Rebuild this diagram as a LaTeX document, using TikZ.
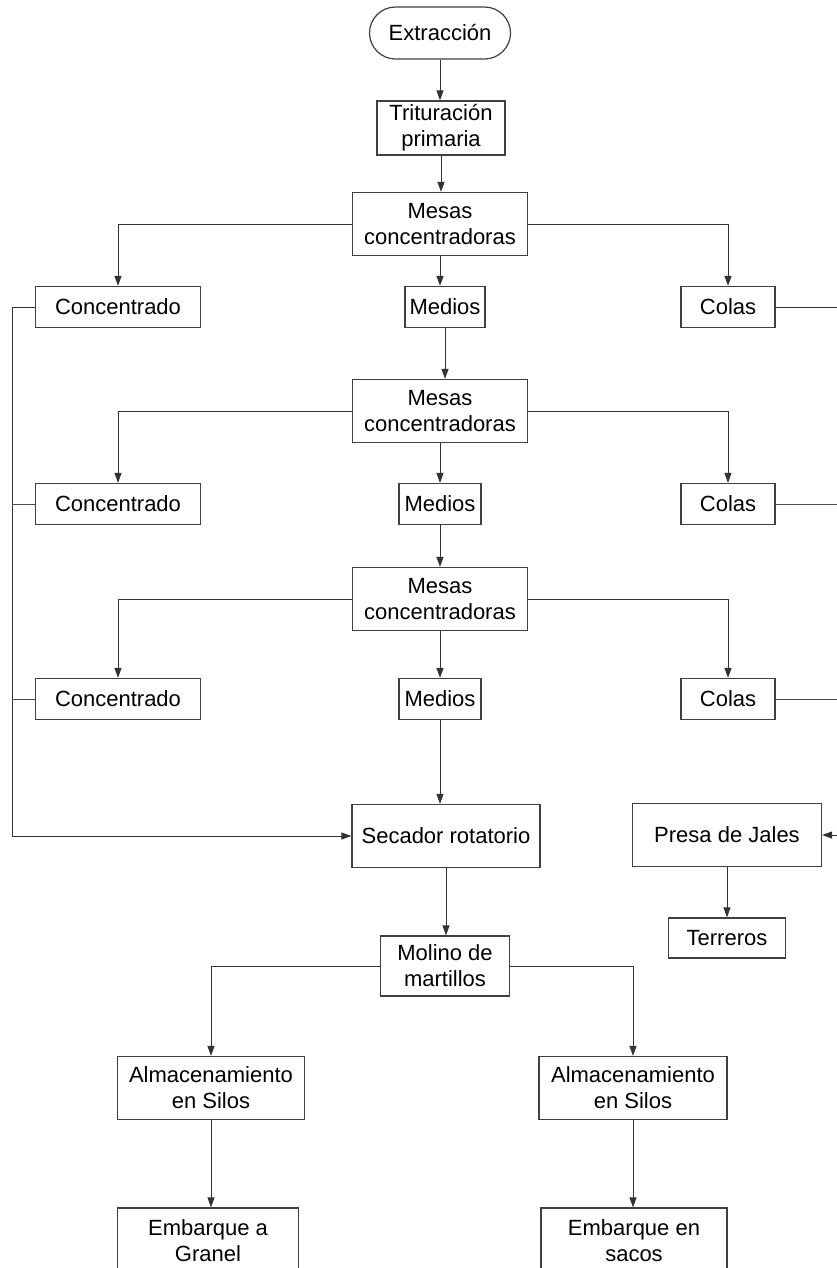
\documentclass[tikz,border=0pt]{standalone}
\usepackage{fontspec}
\setmainfont{Liberation Sans}
\usetikzlibrary{arrows.meta}

\tikzset{
  box/.style={draw=black!75, line width=1.2pt, fill=white, align=center, inner sep=2pt,
    font=\fontsize{22}{26}\selectfont},
  small/.style={box, minimum height=41pt},
  big/.style={box, minimum height=63pt},
  link/.style={draw=black!80, line width=1pt, -{Triangle[length=10pt,width=7pt]}},
  stub/.style={draw=black!70, line width=1pt},
}

\begin{document}
\begin{tikzpicture}[x=1pt, y=-1pt]
  \useasboundingbox (0,0) rectangle (836,1268);

  % Start and crushing
  \node[box, rounded corners=26pt, minimum width=141pt, minimum height=52pt] (extr) at (440,33) {Extracción};
  \node[box, minimum width=128pt, minimum height=54pt] (trit) at (441,128) {Trituración\\primaria};

  % Three stages of shaking tables
  \node[big, minimum width=175pt] (mesa1) at (440,224) {Mesas\\concentradoras};
  \node[small, minimum width=165pt] (conc1) at (118,307) {Concentrado};
  \node[small, minimum width=80pt] (med1) at (445,307) {Medios};
  \node[small, minimum width=94pt] (colas1) at (728,307) {Colas};

  \node[big, minimum width=175pt] (mesa2) at (440,411) {Mesas\\concentradoras};
  \node[small, minimum width=165pt] (conc2) at (118,504) {Concentrado};
  \node[small, minimum width=82pt] (med2) at (440,504) {Medios};
  \node[small, minimum width=94pt] (colas2) at (728,504) {Colas};

  \node[big, minimum width=175pt] (mesa3) at (440,599) {Mesas\\concentradoras};
  \node[small, minimum width=165pt] (conc3) at (118,699) {Concentrado};
  \node[small, minimum width=82pt] (med3) at (440,699) {Medios};
  \node[small, minimum width=94pt] (colas3) at (728,699) {Colas};

  % Drying and tailings
  \node[big, minimum width=188pt] (secador) at (446,836) {Secador rotatorio};
  \node[big, minimum width=189pt] (presa) at (727,835) {Presa de Jales};
  \node[box, minimum width=117pt, minimum height=40pt] (terreros) at (727,938) {Terreros};

  % Milling and shipping
  \node[box, minimum width=129pt, minimum height=60pt] (molino) at (445,966) {Molino de\\martillos};
  \node[big, minimum width=187pt] (almL) at (211,1088) {Almacenamiento\\en Silos};
  \node[big, minimum width=188pt] (almR) at (633,1088) {Almacenamiento\\en Silos};
  \node[box, minimum width=181pt, minimum height=66pt] (embL) at (208,1241) {Embarque a\\Granel};
  \node[box, minimum width=186pt, minimum height=66pt] (embR) at (634,1241) {Embarque en\\sacos};

  % Collector lines
  \coordinate (lbus) at (12,0);
  \coordinate (rbus) at (842,0);

  % Main line
  \draw[link] (extr.south) -- (extr.south |- trit.north);
  \draw[link] (trit.south) -- (trit.south |- mesa1.north);

  \draw[link] (mesa1.west) -| (conc1.north);
  \draw[link] (mesa1.south) -- (mesa1.south |- med1.north);
  \draw[link] (mesa1.east) -| (colas1.north);
  \draw[link] (med1.south) -- (med1.south |- mesa2.north);

  \draw[link] (mesa2.west) -| (conc2.north);
  \draw[link] (mesa2.south) -- (mesa2.south |- med2.north);
  \draw[link] (mesa2.east) -| (colas2.north);
  \draw[link] (med2.south) -- (med2.south |- mesa3.north);

  \draw[link] (mesa3.west) -| (conc3.north);
  \draw[link] (mesa3.south) -- (mesa3.south |- med3.north);
  \draw[link] (mesa3.east) -| (colas3.north);
  \draw[link] (med3.south) -- (med3.south |- secador.north);

  % Concentrate goes to the dryer
  \draw[link] (conc1.west) -- (conc1.west -| lbus) |- (secador.west);
  \draw[stub] (conc2.west) -- (conc2.west -| lbus);
  \draw[stub] (conc3.west) -- (conc3.west -| lbus);

  % Tails go to the dam
  \draw[link] (colas1.east) -- (colas1.east -| rbus) |- (presa.east);
  \draw[stub] (colas2.east) -- (colas2.east -| rbus);
  \draw[stub] (colas3.east) -- (colas3.east -| rbus);
  \draw[link] (presa.south) -- (presa.south |- terreros.north);

  % Dry product
  \draw[link] (secador.south) -- (secador.south |- molino.north);
  \draw[link] (molino.west) -| (almL.north);
  \draw[link] (molino.east) -| (almR.north);
  \draw[link] (almL.south) -- (almL.south |- embL.north);
  \draw[link] (almR.south) -- (almR.south |- embR.north);
\end{tikzpicture}
\end{document}
